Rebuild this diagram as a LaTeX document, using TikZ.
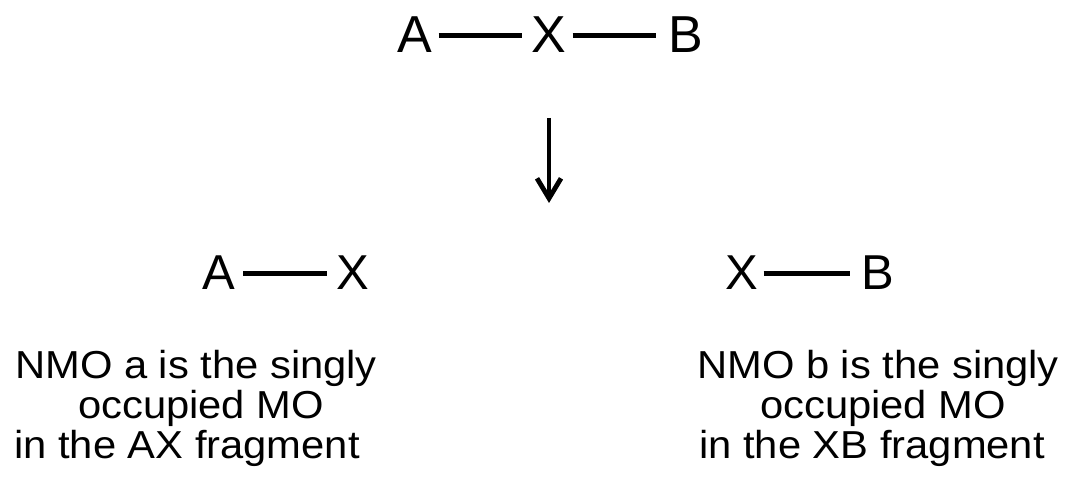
\documentclass[tikz,border=0pt]{standalone}
\usepackage{fontspec}
\setmainfont{Liberation Sans}
\newfontfamily\bodyfont[FakeStretch=1.07]{Liberation Sans}
\usetikzlibrary{arrows.meta}
\begin{document}
\begin{tikzpicture}[x=1pt,y=1pt,
  atom/.style={inner sep=0pt,anchor=base,font=\fontsize{52}{52}\selectfont},
  atomb/.style={inner sep=0pt,anchor=base,font=\fontsize{49}{49}\selectfont},
  desc/.style={inner sep=0pt,anchor=base,font=\bodyfont\fontsize{39}{40}\selectfont},
  bond/.style={line width=4.8pt},
  react/.style={line width=4.8pt,-{Straight Barb[length=20pt,width=24pt]}}]
\useasboundingbox (0,0) rectangle (1070,487);
% top molecule
\node[atom] (A1) at (415,434) {A};
\node[atom] (X1) at (549,434) {X};
\node[atom] (B1) at (686,434) {B};
\draw[bond] ([xshift=6pt]A1.east) -- ([xshift=-9pt]X1.west);
\draw[bond] ([xshift=6pt]X1.east) -- ([xshift=-12pt]B1.west);
% arrow
\coordinate (arrS) at (549,369);
\coordinate (arrE) at (549,284);
\draw[react] (arrS) -- (arrE);
% fragments
\node[atomb] (A2) at (218.5,197) {A};
\node[atomb] (X2) at (353,197) {X};
\draw[bond] ([xshift=8pt]A2.east) -- ([xshift=-9pt]X2.west);
\node[atomb] (X3) at (742,197) {X};
\node[atomb] (B3) at (877.5,197) {B};
\draw[bond] ([xshift=5pt]X3.east) -- ([xshift=-11pt]B3.west);
% descriptions
\node[desc] (la1) at (196,108) {NMO a is the singly};
\node[desc] (la2) at (201,68) {occupied MO};
\node[desc] (la3) at (187,29) {in the AX fragment};
\node[desc] (lb1) at (878,108) {NMO b is the singly};
\node[desc] (lb2) at (883,68) {occupied MO};
\node[desc] (lb3) at (872,29) {in the XB fragment};
\end{tikzpicture}
\end{document}
